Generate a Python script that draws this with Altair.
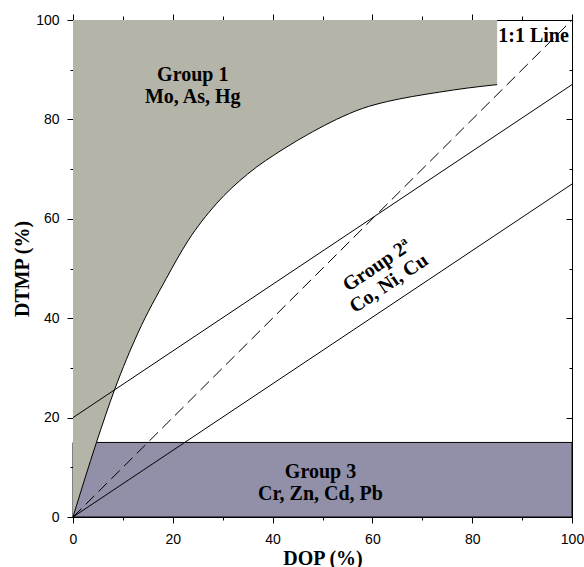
import altair as alt
import pandas as pd

# Group 1 boundary curve (DOP %, DTMP %)
curve_x = [0, 4.7, 8.4, 13, 18.7, 23, 28.7, 35, 42.1, 48, 52.8, 58, 63, 68, 73.5, 79, 85]
curve_y = [0, 15, 25.8, 37, 48, 55.5, 63, 69, 74, 77.5, 80, 82.2, 83.6, 84.6, 85.5, 86.3, 87]
top_y = 100

# straight lines
line_x = [0, 100]
upper_y = [20, 87]
lower_y = [0, 67]
diag_y = [0, 100]

# Group 3 band
band_x = [0, 100]
band_y = [0, 15]

# labels
flat_text = ["Group 1", "Mo, As, Hg", "Group 3", "Cr, Zn, Cd, Pb", "1:1 Line"]
flat_x = [24, 24, 49.6, 49.6, 92.3]
flat_y = [87.7, 83.2, 7.8, 3.4, 95.6]

rot_text = ["Group 2\u00aa", "Co, Ni, Cu"]
rot_x = [60.9, 63.3]
rot_y = [50.6, 47.0]

major_ticks = [0, 20, 40, 60, 80, 100]
minor_ticks = [10, 30, 50, 70, 90]

W, H = 499, 497

xs = alt.Scale(domain=[0, 100], nice=False, zero=False)
ys = alt.Scale(domain=[0, 100], nice=False, zero=False)

common = dict(tickColor="black", domainColor="black", grid=False, tickWidth=1, domainWidth=1)
label_style = dict(labelFont="Liberation Sans", labelFontSize=14, labelColor="black",
                   labelFlush=False, labelOverlap=False)
title_style = dict(titleFont="Liberation Serif", titleFontSize=20, titleFontWeight="bold",
                   titleColor="black", titleAlign="center", titleBaseline="alphabetic")

bottom_major = alt.Axis(orient="bottom", values=major_ticks, tickSize=6, labelPadding=9,
                        title="DOP (%)", titleX=W / 2, titleY=47,
                        **common, **label_style, **title_style)
left_major = alt.Axis(orient="left", values=major_ticks, tickSize=6, labelPadding=8,
                      title="DTMP (%)", titleX=-45, titleY=H / 2, titleAngle=270,
                      **common, **label_style, **title_style)
bottom_minor = alt.Axis(orient="bottom", values=minor_ticks, tickSize=3, labels=False,
                        title=None, **common)
left_minor = alt.Axis(orient="left", values=minor_ticks, tickSize=3, labels=False,
                      title=None, **common)
top_major = alt.Axis(orient="top", values=major_ticks, tickSize=6, labels=False,
                     title=None, **common)
top_minor = alt.Axis(orient="top", values=minor_ticks, tickSize=4, labels=False,
                     title=None, **common)
# right-hand ticks point inward: left-oriented axes shifted to the right edge
right_major = alt.Axis(orient="left", offset=-W, values=major_ticks, tickSize=6, labels=False,
                       title=None, **common)
right_minor = alt.Axis(orient="left", offset=-W, values=minor_ticks, tickSize=3, labels=False,
                       title=None, **common)

lines_df = pd.DataFrame({"x": line_x * 2, "y": upper_y + lower_y,
                         "s": ["upper"] * 2 + ["lower"] * 2})
lines = alt.Chart(lines_df).mark_line(color="black", strokeWidth=1).encode(
    x=alt.X("x:Q", scale=xs, axis=bottom_major), y=alt.Y("y:Q", scale=ys, axis=left_major),
    detail="s:N")

diag_df = pd.DataFrame({"x": line_x, "y": diag_y})
diag = alt.Chart(diag_df).mark_line(color="black", strokeWidth=1, strokeDash=[12, 6]).encode(
    x=alt.X("x:Q", scale=xs, axis=bottom_minor), y=alt.Y("y:Q", scale=ys, axis=left_minor))

band_df = pd.DataFrame({"x": [band_x[0]], "x2": [band_x[1]], "y": [band_y[0]], "y2": [band_y[1]]})
rect = alt.Chart(band_df).mark_rect(fill="#9190A8", stroke="black", strokeWidth=1).encode(
    x=alt.X("x:Q", scale=xs, axis=top_major), x2="x2",
    y=alt.Y("y:Q", scale=ys, axis=right_major), y2="y2")

curve_df = pd.DataFrame({"x": curve_x, "y": curve_y, "top": [top_y] * len(curve_x)})
area = alt.Chart(curve_df).mark_area(fill="#B4B4A9", interpolate="monotone").encode(
    x=alt.X("x:Q", scale=xs, axis=top_minor), y=alt.Y("y:Q", scale=ys, axis=right_minor), y2="top")
curve = alt.Chart(curve_df).mark_line(color="black", strokeWidth=1, interpolate="monotone").encode(
    x=alt.X("x:Q", scale=xs, axis=None), y=alt.Y("y:Q", scale=ys, axis=None))

flat_df = pd.DataFrame({"t": flat_text, "x": flat_x, "y": flat_y})
flat = alt.Chart(flat_df).mark_text(font="Liberation Serif", fontWeight="bold", fontSize=20,
                                    color="black", align="center", baseline="alphabetic").encode(
    x=alt.X("x:Q", scale=xs, axis=None), y=alt.Y("y:Q", scale=ys, axis=None), text="t:N")

rot_df = pd.DataFrame({"t": rot_text, "x": rot_x, "y": rot_y})
rot = alt.Chart(rot_df).mark_text(font="Liberation Serif", fontWeight="bold", fontSize=20,
                                  color="black", align="center", baseline="middle", angle=326).encode(
    x=alt.X("x:Q", scale=xs, axis=None), y=alt.Y("y:Q", scale=ys, axis=None), text="t:N")

chart = alt.layer(rect, area, curve, lines, diag, flat, rot).resolve_axis(
    x="independent", y="independent"
).properties(
    width=W, height=H,
    padding={"left": 12, "top": 13, "right": 0, "bottom": 0},
).configure_view(stroke="black", strokeWidth=1)

chart.save("out.html", embed_options={"renderer": "svg", "actions": False})
